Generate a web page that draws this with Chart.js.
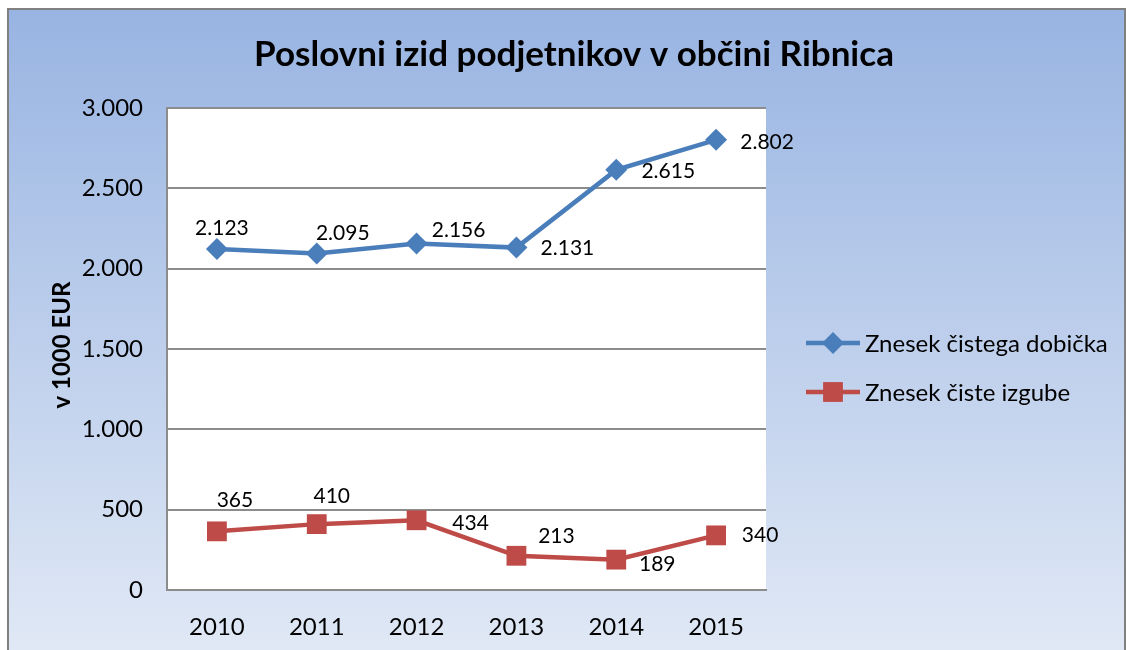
<!DOCTYPE html>
<html>
<head>
<title>Poslovni izid podjetnikov</title>
<script src="https://cdn.jsdelivr.net/npm/chart.js@4.4.1/dist/chart.umd.min.js"></script>
<style>
html, body { margin: 0; padding: 0; background: #fff; }
</style>
</head>
<body>
<canvas id="myChart" width="1126" height="650"></canvas>

<script>
var years = ['2010', '2011', '2012', '2013', '2014', '2015'];
var dobicek = [2123, 2095, 2156, 2131, 2615, 2802];
var izguba = [365, 410, 434, 213, 189, 340];
var yMin = 0, yMax = 3000, yStep = 500;

// label offsets from the point (style only)
var blueLabelOff = [[5, -21], [26, -20], [42, -13], [51, 1], [52, 1], [51, 2]];
var redLabelOff = [[18, -31], [15, -28], [54, 3], [40, -20], [41, 5], [44, 0]];

var FONT = 'Lato, "Open Sans", sans-serif';
var BLUE = '#4a7ebb';
var RED = '#be4b48';
var GRID = '#8c8c8c';

function fmt(v) {
    return String(v).replace(/\B(?=(\d{3})+(?!\d))/g, '.');
}

function marker(ctx, style, x, y, r, color) {
    ctx.save();
    ctx.fillStyle = color;
    ctx.beginPath();
    if (style === 'rect') {
        var s = r * Math.SQRT1_2;
        ctx.rect(x - s, y - s, 2 * s, 2 * s);
    } else {
        ctx.moveTo(x, y - r);
        ctx.lineTo(x + r, y);
        ctx.lineTo(x, y + r);
        ctx.lineTo(x - r, y);
        ctx.closePath();
    }
    ctx.fill();
    ctx.restore();
}

var backdrop = {
    id: 'backdrop',
    beforeDraw: function(chart) {
        var ctx = chart.ctx, a = chart.chartArea;
        ctx.save();
        ctx.fillStyle = '#fff';
        ctx.fillRect(0, 0, chart.width, chart.height);
        var g = ctx.createLinearGradient(0, 9, 0, 650);
        g.addColorStop(0, '#98b4e2');
        g.addColorStop(1, '#e0e8f5');
        ctx.fillStyle = g;
        ctx.fillRect(8, 9, 1117, 641);
        ctx.strokeStyle = '#808080';
        ctx.lineWidth = 2;
        ctx.beginPath();
        ctx.moveTo(8, 650); ctx.lineTo(8, 9); ctx.lineTo(1125, 9); ctx.lineTo(1125, 650);
        ctx.stroke();
        ctx.fillStyle = '#fff';
        ctx.fillRect(a.left, a.top, a.right - a.left, a.bottom - a.top);
        ctx.restore();
    },
    afterDraw: function(chart) {
        var ctx = chart.ctx;
        ctx.save();
        ctx.fillStyle = '#000';
        ctx.textAlign = 'center';
        ctx.textBaseline = 'middle';
        ctx.font = 'bold 35px ' + FONT;
        ctx.fillText('Poslovni izid podjetnikov v občini Ribnica', 574, 55);

        ctx.save();
        ctx.translate(62, 345);
        ctx.rotate(-Math.PI / 2);
        ctx.font = 'bold 24px ' + FONT;
        ctx.fillText('v 1000 EUR', 0, 0);
        ctx.restore();

        // legend
        var rows = [343, 392];
        chart.data.datasets.forEach(function(ds, i) {
            var y = rows[i];
            ctx.strokeStyle = ds.borderColor;
            ctx.lineWidth = 4.5;
            ctx.beginPath();
            ctx.moveTo(806, y); ctx.lineTo(860, y);
            ctx.stroke();
            marker(ctx, ds.pointStyle, 833, y, ds.pointStyle === 'rect' ? 14 : 11, ds.borderColor);
            ctx.fillStyle = '#000';
            ctx.textAlign = 'left';
            ctx.font = '24px ' + FONT;
            ctx.fillText(ds.label, 865, y + 1);
        });

        // data labels
        ctx.textAlign = 'center';
        ctx.font = '21px ' + FONT;
        ctx.fillStyle = '#000';
        chart.data.datasets.forEach(function(ds, i) {
            var meta = chart.getDatasetMeta(i);
            var offs = i === 0 ? blueLabelOff : redLabelOff;
            meta.data.forEach(function(pt, j) {
                ctx.fillText(fmt(ds.data[j]), pt.x + offs[j][0], pt.y + offs[j][1]);
            });
        });
        ctx.restore();
    }
};

var ctx = document.getElementById('myChart').getContext('2d');
var myChart = new Chart(ctx, {
    type: 'line',
    data: {
        labels: years,
        datasets: [{
            label: 'Znesek čistega dobička',
            data: dobicek,
            borderColor: BLUE,
            backgroundColor: BLUE,
            borderWidth: 4.5,
            pointStyle: 'rectRot',
            pointRadius: 11,
            pointBorderWidth: 0,
            tension: 0
        }, {
            label: 'Znesek čiste izgube',
            data: izguba,
            borderColor: RED,
            backgroundColor: RED,
            borderWidth: 4.5,
            pointStyle: 'rect',
            pointRadius: 14,
            pointBorderWidth: 0,
            tension: 0
        }]
    },
    options: {
        responsive: false,
        animation: false,
        layout: { padding: { top: 108, right: 360, bottom: 0, left: 0 } },
        plugins: {
            legend: { display: false },
            title: { display: false },
            tooltip: { enabled: false }
        },
        scales: {
            x: {
                offset: true,
                grid: { display: false, drawTicks: false },
                border: { display: true, color: GRID, width: 2 },
                ticks: { color: '#000', font: { family: FONT, size: 24 }, padding: 23, maxRotation: 0 },
                afterFit: function(s) { s.height = 60; }
            },
            y: {
                min: yMin,
                max: yMax,
                grid: { color: GRID, lineWidth: 2, drawTicks: false },
                border: { display: true, color: GRID, width: 2 },
                ticks: {
                    stepSize: yStep,
                    color: '#000',
                    font: { family: FONT, size: 24 },
                    padding: 24,
                    callback: function(v) { return fmt(v); }
                },
                afterFit: function(s) { s.width = 167; }
            }
        }
    },
    plugins: [backdrop]
});
</script>
</body>
</html>
